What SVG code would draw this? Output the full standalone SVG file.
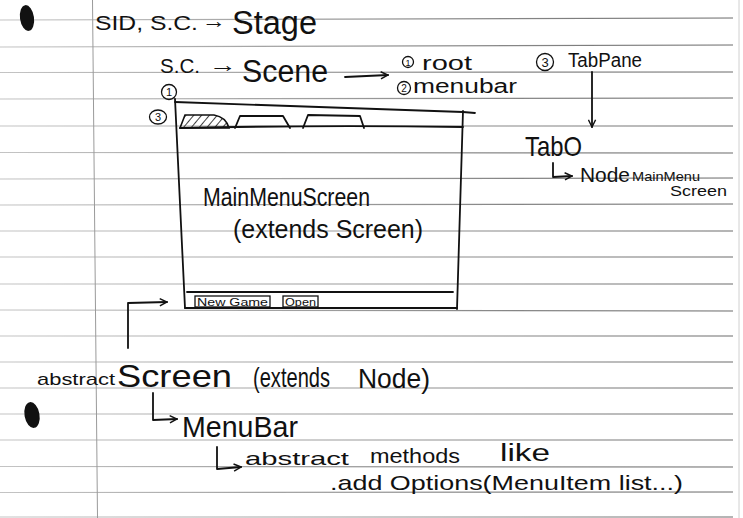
<svg xmlns="http://www.w3.org/2000/svg" width="743" height="518" viewBox="0 0 743 518">
<defs>
<linearGradient id="rule" gradientUnits="userSpaceOnUse" x1="0" y1="0" x2="743" y2="0">
<stop offset="0" stop-color="#c4c4c4"/><stop offset="1" stop-color="#6a6a6a"/>
</linearGradient>
<pattern id="hatch" patternUnits="userSpaceOnUse" width="6" height="6" patternTransform="rotate(40)">
<line x1="0" y1="0" x2="0" y2="6" stroke="#111" stroke-width="1.6"/>
</pattern>
<marker id="arr" viewBox="0 0 10 10" refX="9" refY="5" markerWidth="9" markerHeight="9" orient="auto" markerUnits="userSpaceOnUse">
<path d="M1,1 L9,5 L1,9" fill="none" stroke="#111" stroke-width="1.6"/>
</marker>
<style>
.r{stroke:url(#rule);stroke-width:1.2;fill:none}
.t{font-family:"Liberation Sans",Arial,sans-serif;fill:#111}
.ink{fill:none;stroke:#111;stroke-width:1.8;stroke-linecap:round;stroke-linejoin:round}
.thin{fill:none;stroke:#111;stroke-width:1.3}
</style>
</defs>
<rect width="743" height="518" fill="#fff"/>
<g id="paper">
<line class="r" x1="0" y1="20" x2="733" y2="18"/>
<line class="r" x1="0" y1="47" x2="733" y2="45"/>
<line class="r" x1="0" y1="72.5" x2="733" y2="72"/>
<line class="r" x1="0" y1="99" x2="733" y2="98"/>
<line class="r" x1="0" y1="126" x2="733" y2="126"/>
<line class="r" x1="0" y1="152.5" x2="733" y2="153"/>
<line class="r" x1="0" y1="179" x2="733" y2="178"/>
<line class="r" x1="0" y1="205" x2="733" y2="204"/>
<line class="r" x1="0" y1="231" x2="733" y2="231"/>
<line class="r" x1="0" y1="257" x2="733" y2="257"/>
<line class="r" x1="0" y1="284" x2="733" y2="284"/>
<line class="r" x1="0" y1="310" x2="733" y2="311"/>
<line class="r" x1="0" y1="336" x2="733" y2="336"/>
<line class="r" x1="0" y1="362" x2="733" y2="362"/>
<line class="r" x1="0" y1="388" x2="733" y2="388"/>
<line class="r" x1="0" y1="414" x2="733" y2="414"/>
<line class="r" x1="0" y1="440" x2="733" y2="440"/>
<line class="r" x1="0" y1="466.5" x2="733" y2="467"/>
<line class="r" x1="0" y1="492.5" x2="733" y2="492"/>
<line class="r" x1="0" y1="517" x2="733" y2="517"/>
<line x1="92.5" y1="0" x2="97.5" y2="518" stroke="#9a9a9a" stroke-width="1"/>
<line x1="739" y1="0" x2="739" y2="518" stroke="#d0d0d0" stroke-width="1"/>
<ellipse cx="27" cy="18" rx="7" ry="13" fill="#111" transform="rotate(-8 27 18)"/>
<ellipse cx="32" cy="415" rx="7.5" ry="13" fill="#111" transform="rotate(-10 32 415)"/>
</g>
<g id="connectors">
<path class="ink" d="M345,77 L388,75" marker-end="url(#arr)"/>
<path class="ink" d="M592,72 L592,127" marker-end="url(#arr)"/>
<path class="ink" d="M553,163 L553,177 L572,176" marker-end="url(#arr)"/>
<path class="ink" d="M128,348 L128,303 L167,302" marker-end="url(#arr)"/>
<path class="ink" d="M153,393 L153,420 L177,419" marker-end="url(#arr)"/>
<path class="ink" d="M217,447 L217,469 L241,467" marker-end="url(#arr)"/>
</g>
<g id="stage-line">
<text class="t" x="95" y="30" font-size="20" textLength="103" lengthAdjust="spacingAndGlyphs">SID, S.C.</text>
<text class="t" x="202" y="28" font-size="22" textLength="24" lengthAdjust="spacingAndGlyphs">→</text>
<text class="t" x="232" y="34" font-size="33" textLength="85" lengthAdjust="spacingAndGlyphs">Stage</text>
</g>
<g id="scene-line">
<text class="t" x="160" y="73" font-size="20" textLength="40" lengthAdjust="spacingAndGlyphs">S.C.</text>
<text class="t" x="209" y="72" font-size="22" textLength="28" lengthAdjust="spacingAndGlyphs">→</text>
<text class="t" x="242" y="82" font-size="31" textLength="86" lengthAdjust="spacingAndGlyphs">Scene</text>
</g>
<g id="root-menubar">
<circle class="thin" cx="408" cy="62" r="5.5"/>
<text class="t" x="408" y="65.5" font-size="9" text-anchor="middle">1</text>
<text class="t" x="422" y="70" font-size="20" textLength="50" lengthAdjust="spacingAndGlyphs">root</text>
<circle class="thin" cx="404" cy="88" r="6.5"/>
<text class="t" x="404" y="91.5" font-size="10" text-anchor="middle">2</text>
<text class="t" x="413" y="93" font-size="20" textLength="104" lengthAdjust="spacingAndGlyphs">menubar</text>
</g>
<g id="tabpane">
<circle class="thin" cx="545" cy="62" r="8.5"/>
<text class="t" x="545" y="67" font-size="13" text-anchor="middle">3</text>
<text class="t" x="568" y="67" font-size="20" textLength="74" lengthAdjust="spacingAndGlyphs">TabPane</text>
</g>
<g id="tab0">
<text class="t" x="525" y="156" font-size="28" textLength="57" lengthAdjust="spacingAndGlyphs">TabO</text>
<text class="t" x="580" y="182" font-size="20" textLength="50" lengthAdjust="spacingAndGlyphs">Node</text>
<text class="t" x="632" y="181" font-size="13" textLength="68" lengthAdjust="spacingAndGlyphs">MainMenu</text>
<text class="t" x="670" y="196" font-size="15" textLength="57" lengthAdjust="spacingAndGlyphs">Screen</text>
</g>
<g id="window">
<path class="ink" d="M175,102 L463,112 L475,113"/>
<path class="ink" d="M175,99 L185,308"/>
<path class="ink" d="M463,111 L457,309"/>
<path class="ink" d="M180,128 Q320,125 463,127"/>
<path d="M180,128 L185,115 L214,115 Q226,117 229,128 Z" fill="url(#hatch)" stroke="#111" stroke-width="1.6"/>
<path class="ink" d="M235,128 L240,116 L283,116 L290,128"/>
<path class="ink" d="M303,128 L308,115 L360,116 L364,128"/>
<path class="ink" d="M187,292 L453,292"/>
<path class="ink" d="M185,308 L457,308"/>
<circle class="thin" cx="169" cy="92" r="7.5"/>
<text class="t" x="169" y="96" font-size="11" text-anchor="middle">1</text>
<ellipse class="thin" cx="158" cy="117" rx="8.5" ry="7"/>
<text class="t" x="158" y="121" font-size="11" text-anchor="middle">3</text>
<rect class="thin" x="195" y="296" width="75" height="11"/>
<text class="t" x="197" y="305.5" font-size="10" textLength="71" lengthAdjust="spacingAndGlyphs">New Game</text>
<rect class="thin" x="283" y="296" width="35" height="11"/>
<text class="t" x="285" y="305.5" font-size="10" textLength="31" lengthAdjust="spacingAndGlyphs">Open</text>
<text class="t" x="203" y="206" font-size="26" textLength="167" lengthAdjust="spacingAndGlyphs">MainMenuScreen</text>
<text class="t" x="233" y="238" font-size="26" textLength="190" lengthAdjust="spacingAndGlyphs">(extends Screen)</text>
</g>
<g id="screen-class">
<text class="t" x="37" y="385" font-size="17" textLength="78" lengthAdjust="spacingAndGlyphs">abstract</text>
<text class="t" x="117" y="387" font-size="32" textLength="115" lengthAdjust="spacingAndGlyphs">Screen</text>
<text class="t" x="253" y="387" font-size="28" textLength="77" lengthAdjust="spacingAndGlyphs">(extends</text>
<text class="t" x="358" y="388" font-size="28" textLength="72" lengthAdjust="spacingAndGlyphs">Node)</text>
</g>
<g id="menubar">
<text class="t" x="182" y="437" font-size="30" textLength="116" lengthAdjust="spacingAndGlyphs">MenuBar</text>
</g>
<g id="methods">
<text class="t" x="245" y="465" font-size="19" textLength="104" lengthAdjust="spacingAndGlyphs">abstract</text>
<text class="t" x="370" y="463" font-size="21" textLength="90" lengthAdjust="spacingAndGlyphs">methods</text>
<text class="t" x="500" y="461" font-size="23" textLength="50" lengthAdjust="spacingAndGlyphs">like</text>
<text class="t" x="330" y="490" font-size="21" textLength="353" lengthAdjust="spacingAndGlyphs">.add Options(MenuItem list...)</text>
</g>
</svg>
